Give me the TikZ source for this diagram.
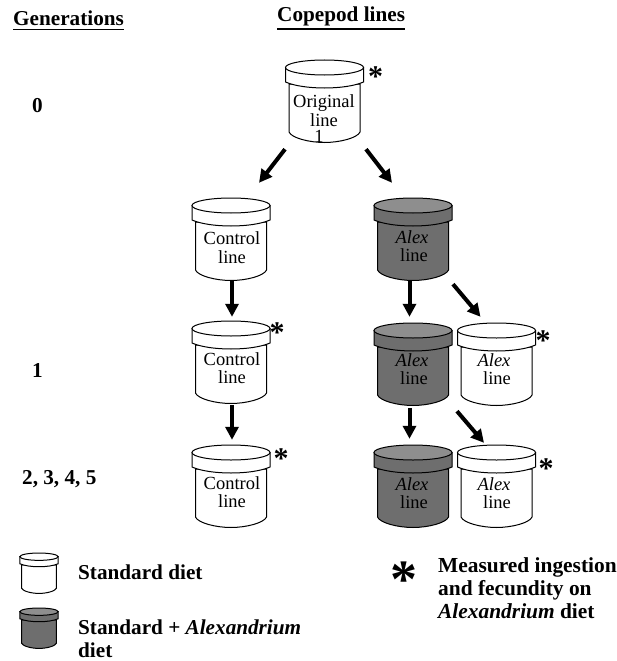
\documentclass[tikz,border=0pt]{standalone}
\usepackage{fontspec}
\setmainfont{Liberation Serif}
\usetikzlibrary{arrows.meta,calc}
\definecolor{jarbody}{HTML}{6E6E6E}
\definecolor{jartop}{HTML}{8E8E8E}
\tikzset{
  jarline/.style={draw=black,line width=1pt},
  arr/.style={line width=4pt,-{Triangle[length=13pt,width=13pt]}},
  jartext/.style={font=\fontsize{18.5}{20}\selectfont,inner sep=0pt,anchor=base},
  head/.style={font=\fontsize{21.2}{24}\selectfont\bfseries,inner sep=0pt,anchor=base west},
  rulehead/.style={line width=1.6pt},
  boldtext/.style={font=\fontsize{21.2}{24}\selectfont\bfseries,inner sep=0pt,anchor=base west},
  legtext/.style={font=\fontsize{21.4}{24}\selectfont\bfseries,inner sep=0pt,anchor=base west},
  star/.style={font=\fontsize{30}{30}\selectfont\bfseries,inner sep=0pt,anchor=center},
  bigstar/.style={font=\fontsize{54}{54}\selectfont\bfseries,inner sep=0pt,anchor=center},
  jarbox/.style={inner sep=0pt,minimum width=78pt,minimum height=83pt},
  smallbox/.style={inner sep=0pt,minimum width=38pt,minimum height=42pt},
}
% name, cx, top, scale, box style, body fill, lid-top fill
\newcommand{\jardraw}[7]{%
  \begin{scope}[shift={(#2,#3)}]
    \node[#5] (#1) at (0,{41.5*#4}) {};
    \begin{scope}[x=#4pt,y=-#4pt]
    \path[jarline,fill=#6] (-35.5,24) -- (-35.5,72)
      .. controls (-33,78) and (-15,82.5) .. (0,82.5)
      .. controls (15,82.5) and (33,78) .. (35.5,72) -- (35.5,24) -- cycle;
    \path[jarline,fill=#6] (-39,7.5) -- (-39,22)
      .. controls (-30,26) and (-15,28) .. (0,28)
      .. controls (15,28) and (30,26) .. (39,22) -- (39,7.5) -- cycle;
    \path[jarline,fill=#7] (0,7.5) ellipse [x radius=39,y radius=7.5];
    \end{scope}
  \end{scope}}
\begin{document}
\begin{tikzpicture}[x=1pt,y=-1pt]
\useasboundingbox (0,0) rectangle (617,661);
% headers
\node[head] (hgen) at (13,26) {Generations};
\node[head] (hcop) at (277,22) {Copepod lines};
\draw[rulehead] (hgen.base west |- 0,29.5) -- (hgen.base east |- 0,29.5);
\draw[rulehead] (hcop.base west |- 0,29) -- (hcop.base east |- 0,29);
\node[head] (g0) at (32,112) {0};
\node[head] (g1) at (32,377) {1};
\node[head] (g2) at (22,484) {2, 3, 4, 5};
% jars
\jardraw{orig}{324.5}{60}{1}{jarbox}{white}{white}
\jardraw{ctl1}{231}{198}{1}{jarbox}{white}{white}
\jardraw{ctl2}{231}{321}{1}{jarbox}{white}{white}
\jardraw{ctl3}{231}{445}{1}{jarbox}{white}{white}
\jardraw{alex1}{413}{198}{1}{jarbox}{jarbody}{jartop}
\jardraw{alex2}{413}{323}{1}{jarbox}{jarbody}{jartop}
\jardraw{alex3}{413}{445}{1}{jarbox}{jarbody}{jartop}
\jardraw{wh2}{496.5}{323}{1}{jarbox}{white}{white}
\jardraw{wh3}{496.5}{445}{1}{jarbox}{white}{white}
\jardraw{legw}{39}{553}{0.49}{smallbox}{white}{white}
\jardraw{legd}{39}{608}{0.49}{smallbox}{jarbody}{jartop}
% jar labels
\node[jartext] (t01) at (324,107) {Original};
\node[jartext] (t02) at (324,126) {line};
\node[jartext] (t03) at (319,142) {1};
\node[jartext] (t11) at (232,244) {Control};
\node[jartext] (t12) at (232,263) {line};
\node[jartext] (t21) at (232,365) {Control};
\node[jartext] (t22) at (232,383) {line};
\node[jartext] (t31) at (232,489) {Control};
\node[jartext] (t32) at (232,507) {line};
\node[jartext] (a11) at (412,243) {\itshape Alex};
\node[jartext] (a12) at (414,261) {line};
\node[jartext] (a21) at (412,366) {\itshape Alex};
\node[jartext] (a22) at (414,384) {line};
\node[jartext] (a31) at (412,490) {\itshape Alex};
\node[jartext] (a32) at (414,508) {line};
\node[jartext] (w21) at (494,366) {\itshape Alex};
\node[jartext] (w22) at (497,384) {line};
\node[jartext] (w31) at (494,490) {\itshape Alex};
\node[jartext] (w32) at (497,508) {line};
% stars
\node[star] (s1) at (375.5,76.5) {*};
\node[star] (s2) at (277,333) {*};
\node[star] (s3) at (543,341) {*};
\node[star] (s4) at (281,459) {*};
\node[star] (s5) at (546,469) {*};
\node[bigstar] (s6) at (404,579.5) {*};
% arrows
\draw[arr] ($(orig.south)+(-39.5,6)$) -- ($(ctl1.north)+(28,-15)$);
\draw[arr] ($(orig.south)+(41.5,6)$) -- ($(alex1.north)+(-21,-15)$);
\draw[arr] ($(ctl1.south)+(1,0)$) -- ($(ctl2.north)+(1,-4)$);
\draw[arr] ($(ctl2.south)+(1,1)$) -- ($(ctl3.north)+(1,-5)$);
\draw[arr] ($(alex1.south)+(-3.5,0)$) -- ($(alex2.north)+(-3.5,-6)$);
\draw[arr] ($(alex2.south)+(-3.5,2)$) -- ($(alex3.north)+(-3.5,-6)$);
\draw[arr] ($(alex1.south)+(40,3)$) -- ($(wh2.north)+(-16,-6)$);
\draw[arr] ($(alex2.south)+(44,5)$) -- ($(wh3.north)+(-12.5,-2)$);
% legend
\node[boldtext] (l1) at (78,579) {Standard diet};
\node[boldtext] (l2) at (78,634) {Standard + \textit{Alexandrium}};
\node[boldtext] (l3) at (78,657) {diet};
\node[legtext] (m1) at (438,572.5) {Measured ingestion};
\node[legtext] (m2) at (438,595) {and fecundity on};
\node[legtext] (m3) at (438,618) {\textit{Alexandrium} diet};
\end{tikzpicture}
\end{document}
